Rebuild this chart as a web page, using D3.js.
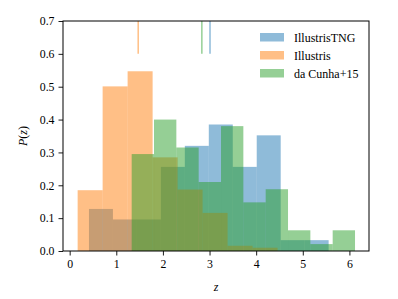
<!DOCTYPE html>
<html lang="en">

<head>
  <meta charset="UTF-8">
  <title>P(z)</title>
  <style>
    body { margin: 0; background: #fff; }
    svg text { font-family: "Liberation Serif", "Times New Roman", "DejaVu Serif", serif; }
  </style>
</head>

<body>
  <svg></svg>
  <script src="https://cdn.jsdelivr.net/npm/d3@7"></script>
  <script>
    // series names, legend order = draw order
    var names = ["IllustrisTNG", "Illustris", "da Cunha+15"];
    var colors = ["#1f77b4", "#ff7f0e", "#2ca02c"];

    // bin edges (z) and densities
    var tngEdges = [0.414, 0.928, 1.442, 1.956, 2.470, 2.984, 3.498, 4.012, 4.526, 5.040, 5.554];
    var tngVals = [0.128, 0.096, 0.096, 0.256, 0.320, 0.385, 0.256, 0.352, 0.033, 0.033];

    var illEdges = [0.171, 0.707, 1.243, 1.779, 2.315, 2.851, 3.387, 3.923, 4.459, 4.995, 5.531];
    var illVals = [0.185, 0.501, 0.547, 0.285, 0.187, 0.116, 0.016, 0.010, 0, 0];

    var dcEdges = [1.330, 1.809, 2.288, 2.767, 3.246, 3.725, 4.204, 4.683, 5.162, 5.641, 6.120];
    var dcVals = [0.295, 0.400, 0.315, 0.210, 0.380, 0.148, 0.188, 0.063, 0.021, 0.063];

    // median markers at the top
    var medians = [3.01, 1.47, 2.835];

    var xTicks = [0, 1, 2, 3, 4, 5, 6];
    var yTicks = [0.0, 0.1, 0.2, 0.3, 0.4, 0.5, 0.6, 0.7];

    var serif = "'Liberation Serif', 'Times New Roman', 'DejaVu Serif', serif";

    var width = 398, height = 299;
    var margin = { left: 63, right: 29, top: 21, bottom: 48 };

    var svg = d3.select("svg")
      .attr("width", width)
      .attr("height", height)
      .style("font-family", serif);

    var x = d3.scaleLinear()
      .domain([-0.143, 6.42])
      .range([margin.left, width - margin.right]);
    var y = d3.scaleLinear()
      .domain([0, 0.7])
      .range([height - margin.bottom, margin.top]);

    var series = [
      { edges: tngEdges, vals: tngVals },
      { edges: illEdges, vals: illVals },
      { edges: dcEdges, vals: dcVals }
    ];

    // histograms
    series.forEach(function (s, k) {
      var bins = s.vals.map(function (v, i) {
        return { x0: s.edges[i], x1: s.edges[i + 1], v: v };
      });
      svg.append("g")
        .selectAll("rect")
        .data(bins.filter(function (d) { return d.v > 0; }))
        .join("rect")
        .attr("x", function (d) { return x(d.x0); })
        .attr("width", function (d) { return x(d.x1) - x(d.x0); })
        .attr("y", function (d) { return y(d.v); })
        .attr("height", function (d) { return y(0) - y(d.v); })
        .attr("fill", colors[k])
        .attr("fill-opacity", 0.5);
    });

    // median lines from 0.6 to 0.7
    svg.append("g")
      .selectAll("line")
      .data(medians)
      .join("line")
      .attr("x1", function (d) { return x(d); })
      .attr("x2", function (d) { return x(d); })
      .attr("y1", y(0.6))
      .attr("y2", y(0.7))
      .attr("stroke", function (d, i) { return colors[i]; })
      .attr("stroke-opacity", 0.5)
      .attr("stroke-width", 1.5);

    // axes
    var xAxis = d3.axisBottom(x).tickValues(xTicks).tickFormat(d3.format("d")).tickSize(4.5).tickPadding(4);
    var yAxis = d3.axisLeft(y).tickValues(yTicks).tickFormat(d3.format(".1f")).tickSize(4.5).tickPadding(4);

    var gx = svg.append("g")
      .attr("transform", `translate(0, ${height - margin.bottom})`)
      .call(xAxis);
    var gy = svg.append("g")
      .attr("transform", `translate(${margin.left}, 0)`)
      .call(yAxis);
    [gx, gy].forEach(function (g) {
      g.attr("font-family", null);
      g.select(".domain").remove();
      g.selectAll("line").attr("stroke", "#000").attr("stroke-width", 0.9);
      g.selectAll("text").attr("font-size", "11.8px").attr("fill", "#000");
    });

    // frame
    svg.append("rect")
      .attr("x", margin.left)
      .attr("y", margin.top)
      .attr("width", width - margin.left - margin.right)
      .attr("height", height - margin.top - margin.bottom)
      .attr("fill", "none")
      .attr("stroke", "#000")
      .attr("stroke-width", 1);

    // labels
    svg.append("text")
      .attr("x", (margin.left + width - margin.right) / 2)
      .attr("y", 291)
      .attr("text-anchor", "middle")
      .attr("font-size", "12px")
      .attr("font-style", "italic")
      .text("z");

    var yl = svg.append("text")
      .attr("transform", `translate(27, ${(margin.top + height - margin.bottom) / 2}) rotate(-90)`)
      .attr("text-anchor", "middle")
      .attr("font-size", "12px");
    yl.append("tspan").attr("font-style", "italic").text("P");
    yl.append("tspan").text("(");
    yl.append("tspan").attr("font-style", "italic").text("z");
    yl.append("tspan").text(")");

    // legend
    var legend = svg.append("g")
      .attr("transform", "translate(260, 33)");
    var rows = legend.selectAll("g")
      .data(names)
      .join("g")
      .attr("transform", function (d, i) { return `translate(0, ${i * 18})`; });
    rows.append("rect")
      .attr("width", 24)
      .attr("height", 8.5)
      .attr("fill", function (d, i) { return colors[i]; })
      .attr("fill-opacity", 0.5);
    rows.append("text")
      .attr("x", 34)
      .attr("y", 8.5)
      .attr("font-size", "12px")
      .text(function (d) { return d; });
  </script>
</body>

</html>
